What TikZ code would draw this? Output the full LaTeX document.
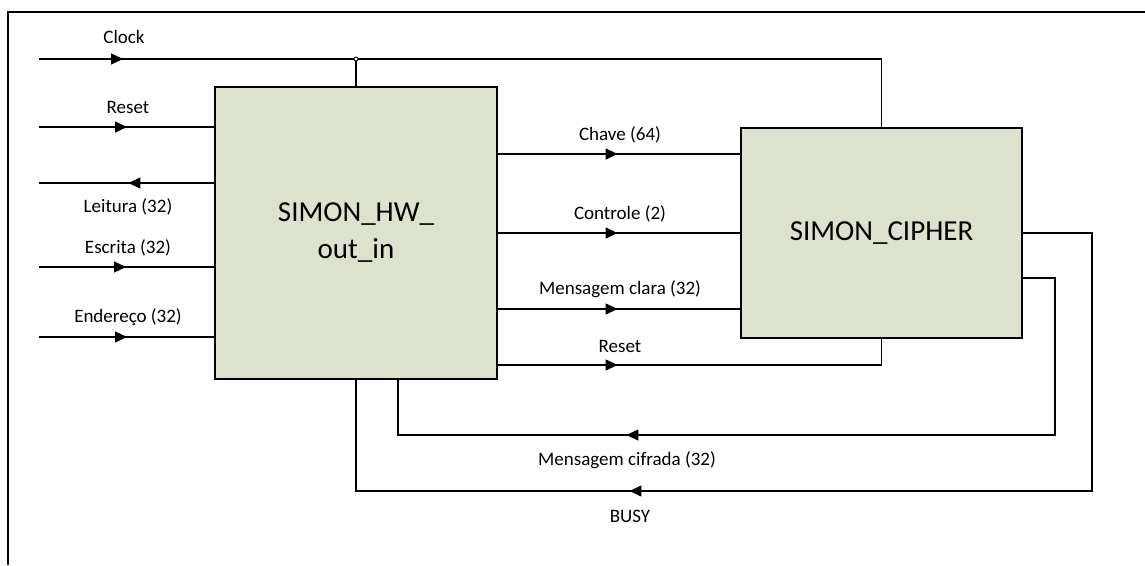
\documentclass[tikz,border=0pt]{standalone}
\usepackage{fontspec}
\setmainfont{Carlito}
\usetikzlibrary{arrows.meta,decorations.markings}
\definecolor{blockfill}{RGB}{221,226,204}
\begin{document}
\begin{tikzpicture}[x=1pt,y=-1pt,
  wire/.style={line width=1.2pt},
  blockbox/.style={draw, line width=1.2pt, fill=blockfill, inner sep=0pt,
    align=center, font=\fontsize{29}{37}\selectfont},
  siglabel/.style={anchor=base, inner sep=0pt, font=\fontsize{19}{22}\selectfont},
  arrowat/.style={postaction={decorate}, decoration={markings,
    mark=at position #1 with {\arrow{Triangle[length=12pt,width=11pt]}}}},
]
\useasboundingbox (0,0) rectangle (1145,565);

% outer frame
\draw[line width=2.2pt] (7.7,565) -- (7.7,11.7) -- (1145,11.7);

% the two blocks
\node[blockbox, minimum width=282pt, minimum height=292pt] (hw) at (356,233) {SIMON\_HW\_\\out\_in};
\node[blockbox, minimum width=281pt, minimum height=210pt] (cipher) at (881.5,233) {SIMON\_CIPHER};

% port coordinates
\coordinate (clkin) at (39,59);
\coordinate (clkj) at (356,59);
\coordinate (rstin) at (39,127);
\coordinate (rdout) at (39,183);
\coordinate (wrin) at (39,267);
\coordinate (adin) at (39,337);
\coordinate (busyx) at (1092,491);
\coordinate (ctx) at (1055,435);

% clock distribution
\draw[wire, arrowat=84pt] (clkin) -- (clkj) -| (cipher.north);
\draw[wire] (clkj) -- (hw.north);
\filldraw[fill=white, line width=0.8pt] (clkj) circle (2pt);

% bus interface on the left
\draw[wire, arrowat=88pt] (rstin) -- (rstin -| hw.west);
\draw[wire, arrowat=86pt] (rdout -| hw.west) -- (rdout);
\draw[wire, arrowat=87pt] (wrin) -- (wrin -| hw.west);
\draw[wire, arrowat=88pt] (adin) -- (adin -| hw.west);

% signals into the cipher
\draw[wire, arrowat=120pt] (hw.east |- 0,154) -- (cipher.west |- 0,154);
\draw[wire, arrowat=120pt] (hw.east |- 0,233) -- (cipher.west |- 0,233);
\draw[wire, arrowat=120pt] (hw.east |- 0,309) -- (cipher.west |- 0,309);
\draw[wire, arrowat=120pt] (hw.east |- 0,365) -| (cipher.south);

% feedback from the cipher
\draw[wire, arrowat=618pt] (cipher.east |- 0,278) -| (ctx) -| (hw.south -| 398,0);
\draw[wire, arrowat=790pt] (cipher.east) -| (busyx) -| (hw.south);

% labels
\node[siglabel] (lclk) at (124,43) {Clock};
\node[siglabel] (lrst) at (128,113) {Reset};
\node[siglabel] (lrd) at (128,212) {Leitura (32)};
\node[siglabel] (lwr) at (128,253) {Escrita (32)};
\node[siglabel] (lad) at (128,322) {Endereço (32)};
\node[siglabel] (lkey) at (620,140) {Chave (64)};
\node[siglabel] (lctl) at (620,219) {Controle (2)};
\node[siglabel] (lpt) at (620,294) {Mensagem clara (32)};
\node[siglabel] (lrst2) at (620,352) {Reset};
\node[siglabel] (lct) at (627,465) {Mensagem cifrada (32)};
\node[siglabel] (lbusy) at (630,522) {BUSY};
\end{tikzpicture}
\end{document}
